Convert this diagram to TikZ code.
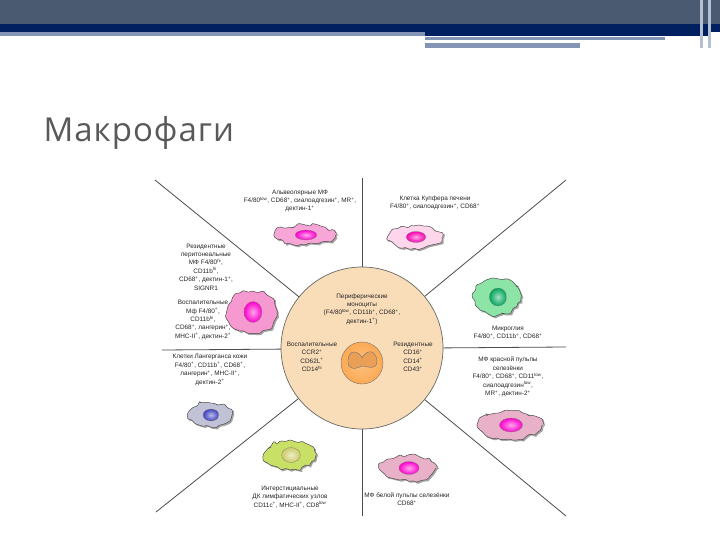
\documentclass[tikz,border=0pt]{standalone}
\usepackage{fontspec}
\setmainfont{Liberation Sans}
\newfontfamily\titlefont{Open Sans}
\usetikzlibrary{decorations.pathmorphing,shadings}
\definecolor{hdr}{HTML}{4A5A70}
\definecolor{navy}{HTML}{002060}
\definecolor{lite}{HTML}{8494B4}
\definecolor{circ}{HTML}{F9DDB8}
\tikzset{
 lbl/.style={font=\fontsize{6.4}{8.4}\selectfont, align=center, inner sep=0pt, text=black!85},
 sep/.style={draw=black!70, line width=0.8pt},
 blob/.style={draw=black!70, line width=0.5pt, decorate, decoration={random steps, segment length=4pt, amplitude=2.2pt}, rounded corners=1.2pt},
 nuc/.style={draw=black!50, line width=0.3pt},
}
\newcommand{\mycell}[7]{% x y rx ry fill nucfill seed
 \pgfmathsetseed{#7}
 \fill[black!35,decorate, decoration={random steps, segment length=4pt, amplitude=2.2pt}] (#1+1.5,#2+1.5) ellipse [x radius=#3, y radius=#4];
 \pgfmathsetseed{#7}
 \path[blob, fill=#5] (#1,#2) ellipse [x radius=#3, y radius=#4];
 \shade[nuc, inner color=#6!35!white, outer color=#6] (#1+1,#2) ellipse [x radius=#3*0.36, y radius=#4*0.5];
}
\begin{document}
\begin{tikzpicture}[x=1pt,y=-1pt]
\useasboundingbox (0,0) rectangle (720,540);
\fill[white] (0,0) rectangle (720,540);
% header
\fill[hdr] (0,0) rectangle (720,24);
\fill[navy] (0,24) rectangle (720,32);
\fill[lite] (0,32) rectangle (425,36);
\fill[navy] (425,32) rectangle (708,36);
\fill[lite] (425,37) rectangle (665,40);
\fill[lite] (425,43) rectangle (580,48);
\fill[lite!60] (700,0) rectangle (703,48);
\fill[lite!60] (708,0) rectangle (711,48);
\node[anchor=west, font=\titlefont\fontsize{33}{38}\selectfont, text=black!65] (title) at (40,133) {М\kern1pt а\kern1pt к\kern1pt р\kern1pt о\kern1pt ф\kern1pt а\kern1pt г\kern1pt и};
% separators
\coordinate (c) at (362,348);
\coordinate (tl) at (155,180); \coordinate (tr) at (566,180);
\coordinate (bl) at (156,512); \coordinate (br) at (566,516);
\coordinate (tv) at (362,178); \coordinate (bv) at (362,516);
\coordinate (lh) at (162,350); \coordinate (rh) at (566,347);
\draw[sep] (tl) -- (c) -- (tr); \draw[sep] (bl) -- (c) -- (br);
\draw[sep] (tv) -- (bv); \draw[sep] (lh) -- (rh);
\node[circle, minimum size=162pt, fill=circ, draw=black!60, line width=0.7pt] (circle) at (c) {};
% monocyte
\shade[inner color=circ!70!orange, outer color=orange!55!circ, draw=black!55] (362,363) circle (21);
\draw[fill=orange!55!brown!75, draw=black!55, line width=0.4pt] (348,360) .. controls (350,345) and (362,355) .. (362,358) .. controls (364,352) and (376,346) .. (377,362) .. controls (376,370) and (369,367) .. (362,366) .. controls (356,369) and (347,371) .. (348,360);
\node[lbl] (pm) at (362,309) {Периферические\\моноциты\\(F4/80\textsuperscript{low}, CD11b\textsuperscript{+}, CD68\textsuperscript{+},\\дектин-1\textsuperscript{+})};
\node[lbl] (inf) at (312,357) {Воспалительные\\CCR2\textsuperscript{+}\\CD62L\textsuperscript{+}\\CD14\textsuperscript{hi}};
\node[lbl] (res) at (413,357) {Резидентные\\CD16\textsuperscript{+}\\CD14\textsuperscript{+}\\CD43\textsuperscript{+}};
% cells
\mycell{305}{235}{30}{10}{magenta!35}{magenta!80!red}{3}
\mycell{252}{312}{25}{21}{magenta!40}{magenta!80!red}{7}
\mycell{415}{237}{27}{11}{pink!80!magenta!40}{magenta!70!red}{11}
\mycell{497}{297}{24}{18}{teal!45!green!45}{teal!70!green}{5}
\mycell{210}{415}{22}{12}{blue!20!gray!40}{blue!50!gray}{13}
\mycell{290}{455}{26}{15}{lime!60!olive!60}{olive!40!white}{17}
\mycell{510}{425}{32}{14}{violet!25!pink!70}{magenta!80!red}{19}
\mycell{408}{468}{28}{13}{violet!25!pink!70}{magenta!80!red}{23}
% labels
\node[lbl] (alv) at (300,201) {Альвеолярные МФ\\F4/80\textsuperscript{low}, CD68\textsuperscript{+}, сиалоадгезин\textsuperscript{+}, MR\textsuperscript{+},\\дектин-1\textsuperscript{+}};
\node[lbl] (per) at (206,267) {Резидентные\\перитонеальные\\МФ F4/80\textsuperscript{hi},\\CD11b\textsuperscript{hi},\\CD68\textsuperscript{+}, дектин-1\textsuperscript{+},\\SIGNR1};
\node[lbl] (vmf) at (203,320) {Воспалительные\\Мф F4/80\textsuperscript{+},\\CD11b\textsuperscript{hi},\\CD68\textsuperscript{+}, лангерин\textsuperscript{+},\\MHC-II\textsuperscript{+}, дектин-2\textsuperscript{+}};
\node[lbl] (kup) at (435,203) {Клетка Купфера печени\\F4/80\textsuperscript{+}, сиалоадгезин\textsuperscript{+}, CD68\textsuperscript{+}};
\node[lbl] (mic) at (508,333) {Микроглия\\F4/80\textsuperscript{+}, CD11b\textsuperscript{+}, CD68\textsuperscript{+}};
\node[lbl] (lan) at (210,370) {Клетки Лангерганса кожи\\F4/80\textsuperscript{+}, CD11b\textsuperscript{+}, CD68\textsuperscript{+},\\лангерин\textsuperscript{+}, MHC-II\textsuperscript{+},\\дектин-2\textsuperscript{+}};
\node[lbl] (int) at (290,497) {Интерстициальные\\ДК лимфатических узлов\\CD11c\textsuperscript{+}, MHC-II\textsuperscript{+}, CD8\textsuperscript{low}};
\node[lbl] (red) at (508,377) {МФ красной пульпы\\селезёнки\\F4/80\textsuperscript{+}, CD68\textsuperscript{+}, CD11\textsuperscript{low},\\сиалоадгезин\textsuperscript{low},\\MR\textsuperscript{+}, дектин-2\textsuperscript{+}};
\node[lbl] (wht) at (407,499) {МФ белой пульпы селезёнки\\CD68\textsuperscript{+}};
\end{tikzpicture}
\end{document}
